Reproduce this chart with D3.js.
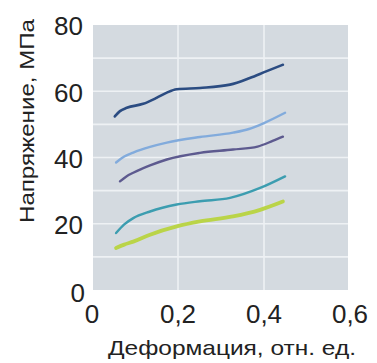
<!DOCTYPE html>
<html>
<head>
<meta charset="utf-8">
<script src="https://cdn.jsdelivr.net/npm/d3@7"></script>
<style>
  html, body { margin: 0; padding: 0; background: #ffffff; }
  svg { display: block; }
</style>
</head>
<body>
<svg id="chart" width="377" height="363"></svg>
<script>
// Strain (relative units) and stress (MPa) for five stress–strain curves
const strain1 = [0.053, 0.065, 0.081, 0.119, 0.150, 0.174, 0.197, 0.251, 0.321, 0.367, 0.405, 0.444];
const stress1 = [52.4, 54.0, 55.0, 56.2, 58.0, 59.6, 60.6, 61.0, 62.0, 64.0, 66.0, 68.0];

const strain2 = [0.056, 0.075, 0.096, 0.135, 0.174, 0.251, 0.328, 0.365, 0.400, 0.449];
const stress2 = [38.5, 40.3, 41.5, 43.2, 44.5, 46.2, 47.5, 48.6, 50.4, 53.5];

const strain3 = [0.065, 0.080, 0.096, 0.135, 0.174, 0.251, 0.328, 0.385, 0.420, 0.444];
const stress3 = [32.8, 34.3, 35.4, 37.6, 39.4, 41.4, 42.4, 43.3, 45.0, 46.3];

const strain4 = [0.056, 0.075, 0.096, 0.135, 0.197, 0.251, 0.321, 0.391, 0.449];
const stress4 = [17.2, 19.8, 21.7, 23.7, 25.8, 26.8, 27.8, 30.8, 34.3];

const strain5 = [0.056, 0.075, 0.096, 0.135, 0.197, 0.251, 0.328, 0.391, 0.444];
const stress5 = [12.7, 13.7, 14.6, 16.7, 19.2, 20.7, 22.2, 24.2, 26.7];

const seriesColors = ["#2b4c82", "#82abdc", "#5d5a8f", "#3c9db0", "#bad448"];
const seriesWidths = [2.6, 2.4, 2.4, 2.4, 3.8];

const xTicks = [0, 0.2, 0.4, 0.6];
const yTicks = [0, 20, 40, 60, 80];
const yGrid = [10, 20, 30, 40, 50, 60, 70];

const xTitle = "Деформация, отн. ед.";
const yTitle = "Напряжение, МПа";

const series = [
  { x: strain1, y: stress1 },
  { x: strain2, y: stress2 },
  { x: strain3, y: stress3 },
  { x: strain4, y: stress4 },
  { x: strain5, y: stress5 }
];

const svg = d3.select("#chart");
const plotLeft = 92, plotRight = 350, plotTop = 25, plotBottom = 290, panelRight = 348;

const x = d3.scaleLinear().domain([0, 0.6]).range([plotLeft, plotRight]);
const y = d3.scaleLinear().domain([0, 80]).range([plotBottom, plotTop]);

// plot panel
svg.append("rect")
  .attr("x", plotLeft + 1).attr("y", plotTop)
  .attr("width", panelRight - plotLeft - 1).attr("height", plotBottom - plotTop)
  .attr("fill", "#d4dae0");

// grid
svg.append("g").selectAll("line").data(yGrid).join("line")
  .attr("x1", plotLeft + 1).attr("x2", panelRight)
  .attr("y1", d => y(d)).attr("y2", d => y(d))
  .attr("stroke", "#eef1f4").attr("stroke-width", 1.6);

svg.append("g").selectAll("line").data([0.2, 0.4]).join("line")
  .attr("x1", d => x(d)).attr("x2", d => x(d))
  .attr("y1", plotTop).attr("y2", plotBottom)
  .attr("stroke", "#eef1f4").attr("stroke-width", 1.6);

// curves
const line = d3.line()
  .x(d => x(d[0])).y(d => y(d[1]))
  .curve(d3.curveMonotoneX);

series.forEach((s, i) => {
  const pts = s.x.map((v, j) => [v, s.y[j]]);
  svg.append("path")
    .datum(pts)
    .attr("d", line)
    .attr("fill", "none")
    .attr("stroke", seriesColors[i])
    .attr("stroke-width", seriesWidths[i])
    .attr("stroke-linecap", "round");
});

// tick labels
const font = "'Liberation Sans', Arial, sans-serif";
svg.append("g").selectAll("text").data(yTicks).join("text")
  .attr("x", d => d === 0 ? 85 : 83)
  .attr("y", d => y(d) + (d === 0 ? 3 : 1))
  .attr("dy", "0.36em")
  .attr("text-anchor", "end")
  .attr("font-family", font).attr("font-size", 26)
  .attr("fill", "#222")
  .text(d => d);

svg.append("g").selectAll("text").data(xTicks).join("text")
  .attr("x", d => x(d)).attr("y", 323)
  .attr("text-anchor", "middle")
  .attr("font-family", font).attr("font-size", 26)
  .attr("fill", "#222")
  .text(d => String(d).replace(".", ","));

// axis titles
svg.append("text")
  .attr("x", 232).attr("y", 355)
  .attr("text-anchor", "middle")
  .attr("font-family", font).attr("font-size", 21)
  .attr("textLength", 248).attr("lengthAdjust", "spacingAndGlyphs")
  .attr("fill", "#222")
  .text(xTitle);

svg.append("text")
  .attr("transform", "translate(34,121) rotate(-90)")
  .attr("text-anchor", "middle")
  .attr("font-family", font).attr("font-size", 21)
  .attr("textLength", 204).attr("lengthAdjust", "spacingAndGlyphs")
  .attr("fill", "#222")
  .text(yTitle);
</script>
</body>
</html>
